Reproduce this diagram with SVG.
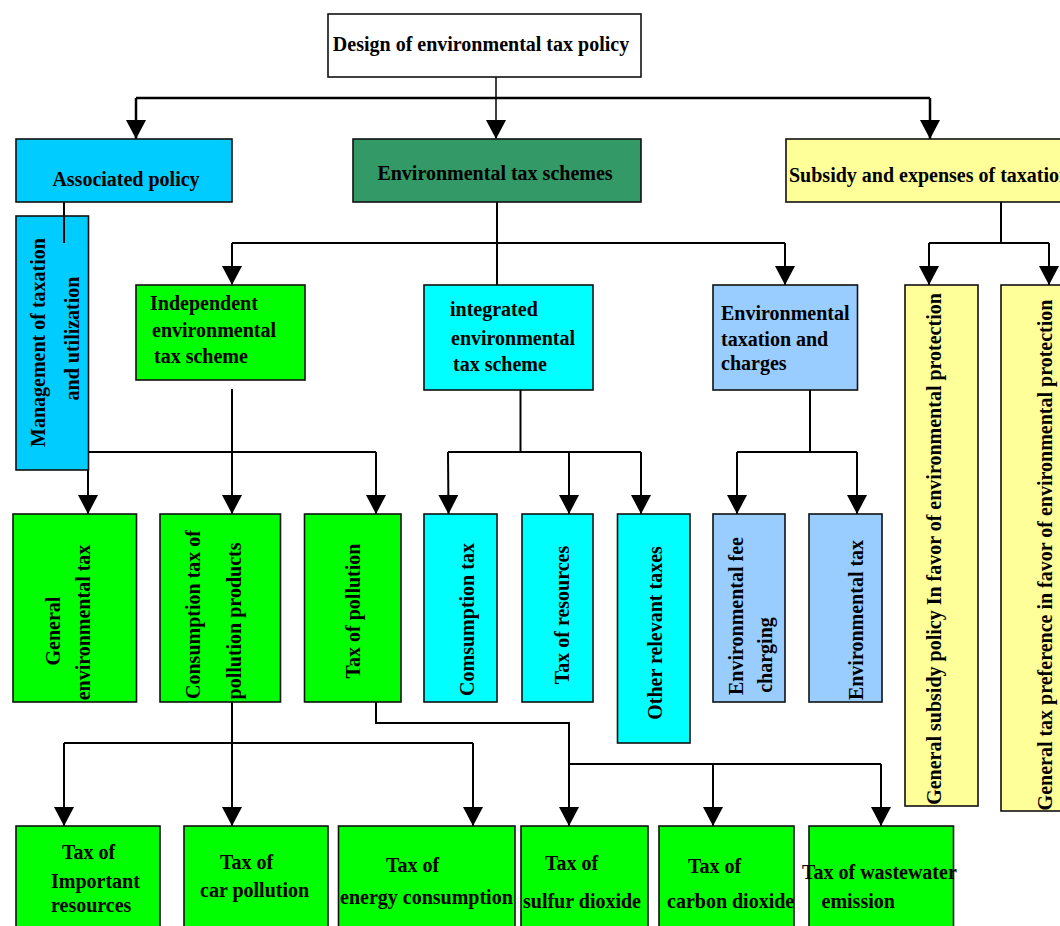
<svg xmlns="http://www.w3.org/2000/svg" width="1060" height="926" viewBox="0 0 1060 926">
<style>
text{font-family:"Liberation Serif","Times New Roman",serif;font-weight:bold;font-size:20px;fill:#000}
.box{stroke:#111;stroke-width:1.6}
.w{fill:#fff}.b{fill:#00CCFF}.dg{fill:#339966}.y{fill:#FFFF99}.g{fill:#00FF00}.c{fill:#00FFFF}.lb{fill:#99CCFF}
.m{text-anchor:middle}
#connectors path{fill:none;stroke:#000;stroke-width:2}
#connectors .thick{stroke-width:2.5}
#connectors .thin{stroke-width:1.5}
</style>
<defs>
<marker id="ah" markerUnits="userSpaceOnUse" markerWidth="20" markerHeight="20" viewBox="0 0 19 20" refX="19" refY="10" orient="auto">
<path d="M0,0 L19,10 L0,20 Z" fill="#000"/>
</marker>
</defs>
<rect width="1060" height="926" fill="#fff"/>

<g id="connectors">
<path class="thin" d="M496,77 V139" marker-end="url(#ah)"/>
<path class="thick" d="M136,98 H930"/>
<path class="thick" d="M136,98 V139" marker-end="url(#ah)"/>
<path class="thick" d="M930,98 V139" marker-end="url(#ah)"/>
<path d="M64,202 V243"/>
<path d="M497,202 V285"/>
<path d="M232,243 H785"/>
<path d="M232,243 V285" marker-end="url(#ah)"/>
<path d="M785,243 V285" marker-end="url(#ah)"/>
<path d="M1001,202 V243"/>
<path d="M929,243 H1049"/>
<path d="M929,243 V285" marker-end="url(#ah)"/>
<path d="M1049,243 V285" marker-end="url(#ah)"/>
<path d="M232,389 V514" marker-end="url(#ah)"/>
<path d="M88,452 H376"/>
<path d="M88,452 V514" marker-end="url(#ah)"/>
<path d="M376,452 V514" marker-end="url(#ah)"/>
<path d="M520.5,390 V452"/>
<path d="M448,452 H641"/>
<path d="M448,452 L448.5,514" marker-end="url(#ah)"/>
<path d="M569,452 V514" marker-end="url(#ah)"/>
<path d="M641,452 V514" marker-end="url(#ah)"/>
<path d="M810,390 V452"/>
<path d="M737,452 H857"/>
<path d="M737,452 V514" marker-end="url(#ah)"/>
<path d="M857,452 V514" marker-end="url(#ah)"/>
<path d="M232,702 V826" marker-end="url(#ah)"/>
<path d="M64,743 H473"/>
<path d="M64,743 V826" marker-end="url(#ah)"/>
<path d="M473,743 V826" marker-end="url(#ah)"/>
<path d="M376,702 V723 H569 V826" marker-end="url(#ah)"/>
<path d="M569,764 H881"/>
<path d="M713,764 V826" marker-end="url(#ah)"/>
<path d="M881,764 V826" marker-end="url(#ah)"/>
</g>

<g id="n-design"><rect class="box w" x="328" y="14" width="313" height="63"/><text class="m" x="481" y="51">Design of environmental tax policy</text></g>
<g id="n-associated"><rect class="box b" x="16" y="139" width="216" height="63"/><text class="m" x="126" y="186">Associated policy</text></g>
<g id="n-schemes"><rect class="box dg" x="353" y="139" width="288" height="63"/><text class="m" x="495" y="180">Environmental tax schemes</text></g>
<g id="n-subsidy"><rect class="box y" x="786" y="139" width="300" height="63"/><text x="789" y="182">Subsidy and expenses of taxation</text></g>

<g id="n-management"><rect class="box b" x="16" y="216" width="72.5" height="254"/>
<text class="m" transform="translate(45,342.5) rotate(-90)">Management of taxation</text>
<text class="m" transform="translate(79,338.5) rotate(-90)">and utilization</text></g>
<path d="M64,216 V243" stroke="#000" stroke-width="2" fill="none"/>

<g id="n-independent"><rect class="box g" x="136" y="285" width="169" height="95"/>
<text x="150" y="310">Independent</text><text x="152" y="337">environmental</text><text x="154" y="363">tax scheme</text></g>
<g id="n-integrated"><rect class="box c" x="424" y="285" width="169" height="105"/>
<text x="450" y="316">integrated</text><text x="451" y="345">environmental</text><text x="453" y="371">tax scheme</text></g>
<g id="n-envcharges"><rect class="box lb" x="713" y="285" width="144.5" height="105"/>
<text x="721" y="320">Environmental</text><text x="721" y="346">taxation and</text><text x="721" y="370">charges</text></g>

<g id="n-subsidypolicy"><rect class="box y" x="905" y="285" width="73" height="521"/>
<text class="m" transform="translate(941,549) rotate(-90)">General subsidy policy In favor of environmental protection</text></g>
<g id="n-taxpref"><rect class="box y" x="1001" y="285" width="80" height="526"/>
<text class="m" transform="translate(1052,555) rotate(-90)">General tax preference in favor of environmental protection</text></g>

<g id="n-general"><rect class="box g" x="13" y="514" width="123.5" height="188"/>
<text class="m" transform="translate(60,631) rotate(-90)">General</text>
<text class="m" transform="translate(90,622.5) rotate(-90)">environmental tax</text></g>
<g id="n-consumptionpoll"><rect class="box g" x="160" y="514" width="120.5" height="188"/>
<text class="m" transform="translate(200,614.5) rotate(-90)">Consumption tax of</text>
<text class="m" transform="translate(241,621) rotate(-90)">pollution products</text></g>
<g id="n-taxpollution"><rect class="box g" x="304.5" y="514" width="96.5" height="188"/>
<text class="m" transform="translate(360,611) rotate(-90)">Tax of pollution</text></g>
<g id="n-consumption"><rect class="box c" x="424" y="514" width="73" height="188"/>
<text class="m" transform="translate(474,619.5) rotate(-90)">Comsumption tax</text></g>
<g id="n-resources"><rect class="box c" x="522" y="514" width="71" height="188"/>
<text class="m" transform="translate(569,615) rotate(-90)">Tax of resources</text></g>
<g id="n-other"><rect class="box c" x="617.5" y="514" width="72.5" height="229"/>
<text class="m" transform="translate(662,633) rotate(-90)">Other relevant taxes</text></g>
<g id="n-envfee"><rect class="box lb" x="713" y="514" width="72" height="188"/>
<text class="m" transform="translate(743,616) rotate(-90)">Environmental fee</text>
<text class="m" transform="translate(772,655) rotate(-90)">charging</text></g>
<g id="n-envtax"><rect class="box lb" x="809" y="514" width="73" height="188"/>
<text class="m" transform="translate(863,620) rotate(-90)">Environmental tax</text></g>

<g id="n-important"><rect class="box g" x="16" y="826" width="144" height="110"/>
<text x="62" y="859">Tax of</text><text x="51" y="888">Important</text><text x="51" y="912">resources</text></g>
<g id="n-car"><rect class="box g" x="184" y="826" width="144" height="110"/>
<text x="220" y="869">Tax of</text><text x="200" y="897">car pollution</text></g>
<g id="n-energy"><rect class="box g" x="338.5" y="826" width="176.5" height="110"/>
<text x="386" y="872">Tax of</text><text x="340" y="904">energy consumption</text></g>
<g id="n-sulfur"><rect class="box g" x="521" y="826" width="127" height="110"/>
<text x="545" y="870">Tax of</text><text x="523" y="907.5">sulfur dioxide</text></g>
<g id="n-carbon"><rect class="box g" x="659" y="826" width="135" height="110"/>
<text x="688" y="873">Tax of</text><text x="667" y="907.5">carbon dioxide</text></g>
<g id="n-wastewater"><rect class="box g" x="809" y="826" width="144.5" height="110"/>
<text x="802" y="879">Tax of wastewater</text><text x="821.5" y="907.5">emission</text></g>
</svg>
